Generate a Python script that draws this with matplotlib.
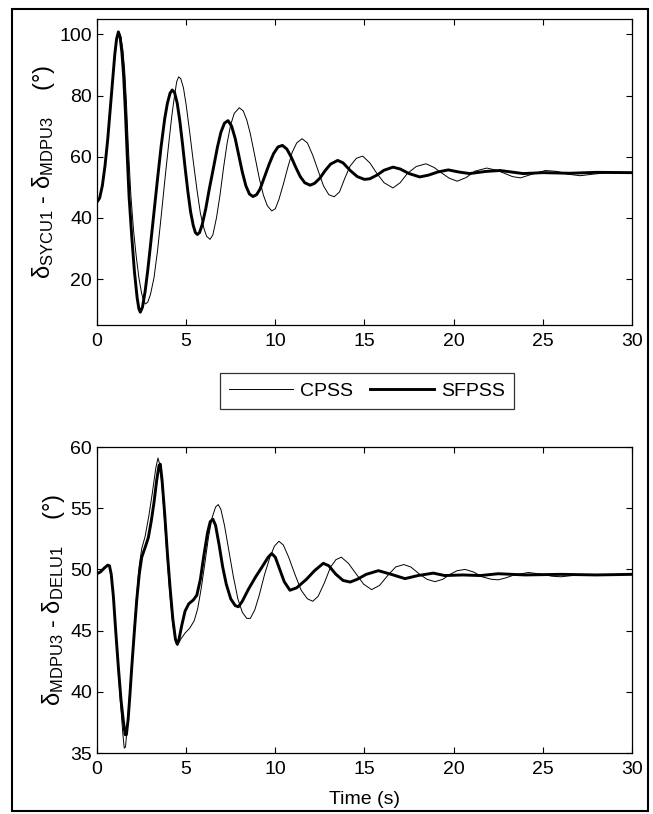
import matplotlib

matplotlib.use("Agg")
import matplotlib.pyplot as plt
from matplotlib.patches import Rectangle

plt.rcParams["font.family"] = ["Liberation Sans", "DejaVu Sans"]
plt.rcParams["mathtext.fontset"] = "custom"
plt.rcParams["mathtext.rm"] = "Liberation Sans"
plt.rcParams["mathtext.it"] = "Liberation Sans:italic"
plt.rcParams["font.size"] = 13.5

# ---- data (time in s, angle in deg) ----
t_top_cpss = [0.0, 0.15, 0.3, 0.45, 0.6, 0.75, 0.9, 1.0, 1.1, 1.22, 1.33, 1.45, 1.55,
              1.65, 1.76, 1.9, 2.05, 2.2, 2.35, 2.5, 2.62, 2.72, 2.85, 3.0, 3.2, 3.4,
              3.6, 3.8, 4.0, 4.2, 4.35, 4.47, 4.58, 4.7, 4.85, 5.0, 5.2, 5.4, 5.6, 5.8,
              6.0, 6.15, 6.34, 6.5, 6.7, 6.9, 7.1, 7.3, 7.5, 7.7, 7.98, 8.2, 8.4, 8.6,
              8.86, 9.1, 9.33, 9.55, 9.8, 10.0, 10.2, 10.45, 10.7, 10.95, 11.2, 11.5,
              11.8, 12.1, 12.4, 12.7, 13.0, 13.3, 13.6, 13.9, 14.2, 14.55, 14.9, 15.3,
              15.7, 16.1, 16.6, 17.0, 17.4, 17.9, 18.45, 18.9, 19.3, 19.75, 20.2, 20.7,
              21.2, 21.86, 22.4, 22.8, 23.3, 23.75, 24.4, 25.15, 25.8, 26.4, 27.1,
              27.8, 28.5, 30.0]
y_top_cpss = [45.2, 46.5, 50.5, 57.0, 65.5, 76.0, 86.5, 93.0, 97.8, 100.8, 99.5, 95.0, 88.5,
              78.0, 63.0, 47.5, 36.0, 27.5, 20.5, 15.5, 12.8, 11.9, 12.5, 15.0, 20.5, 29.5,
              40.5, 52.0, 63.0, 73.5, 80.0, 84.5, 86.1, 85.5, 82.5, 77.0, 68.0, 58.5, 49.5, 41.5,
              36.5, 34.0, 33.0, 34.5, 40.0, 47.5, 56.5, 64.5, 70.5, 74.2, 76.0, 75.0, 72.0, 67.5,
              60.0, 53.0, 47.5, 44.0, 42.3, 43.0, 46.0, 51.0, 56.5, 61.5, 64.5, 65.9,
              64.5, 60.5, 55.5, 50.5, 47.6, 46.9, 48.5, 53.0, 57.0, 59.5, 60.2, 58.0,
              54.5, 51.5, 49.8, 51.5, 54.5, 56.8, 57.7, 56.5, 54.8, 53.0, 52.0, 53.2,
              55.3, 56.3, 55.6, 54.7, 53.5, 53.1, 54.3, 55.5, 55.2, 54.3, 53.8,
              54.3, 54.7, 54.8]

t_top_sfpss = [0.0, 0.15, 0.3, 0.45, 0.6, 0.75, 0.9, 1.0, 1.1, 1.2, 1.3, 1.4, 1.5, 1.6,
               1.7, 1.8, 1.95, 2.1, 2.25, 2.35, 2.43, 2.55, 2.7, 2.85, 3.0, 3.2, 3.4, 3.6,
               3.8, 3.95, 4.1, 4.22, 4.35, 4.5, 4.65, 4.8, 4.95, 5.1, 5.25, 5.4, 5.52,
               5.63, 5.75, 5.9, 6.1, 6.3, 6.52, 6.75, 6.95, 7.15, 7.35, 7.55, 7.75, 7.95,
               8.15, 8.35, 8.55, 8.75, 8.95, 9.15, 9.4, 9.65, 9.9, 10.15, 10.4, 10.65,
               10.9, 11.15, 11.4, 11.65, 11.95, 12.2, 12.5, 12.8, 13.1, 13.5, 13.8, 14.2,
               14.6, 15.0, 15.3, 15.7, 16.1, 16.6, 17.0, 17.5, 18.1, 18.6, 19.1, 19.7,
               20.3, 20.9, 21.8, 22.6, 23.9, 25.0, 26.5, 28.0, 30.0]
y_top_sfpss = [45.2, 46.5, 50.5, 57.0, 65.5, 76.0, 86.5, 93.5, 98.5, 100.8, 99.0, 94.0, 86.0, 74.0,
               60.0, 47.0, 34.0, 22.5, 14.0, 10.3, 9.2, 10.8, 16.0, 23.0, 31.0, 42.0, 53.0, 63.5,
               72.5, 77.5, 80.8, 81.8, 81.0, 77.5, 71.5, 64.0, 56.0, 48.5, 42.0, 37.5, 35.2,
               34.6, 35.2, 37.8, 43.0, 49.5, 56.0, 63.0, 68.0, 71.0, 71.8, 70.0, 66.0, 60.5,
               55.0, 50.5, 47.8, 47.0, 47.6, 49.5, 53.5, 57.5, 61.0, 63.2, 63.7, 62.5,
               59.8, 56.5, 53.5, 51.5, 50.7, 51.3, 53.0, 55.5, 57.6, 58.8, 58.0, 55.5,
               53.5, 52.6, 52.8, 54.0, 55.6, 56.6, 56.0, 54.5, 53.4, 54.0, 55.0, 55.7,
               55.0, 54.5, 55.2, 55.5, 54.5, 54.8, 54.6, 54.9, 54.8]

t_bot_cpss = [0.0, 0.2, 0.4, 0.6, 0.7, 0.8, 0.92, 1.05, 1.2, 1.35, 1.45, 1.53, 1.6, 1.7,
              1.8, 1.95, 2.1, 2.23, 2.37, 2.51, 2.7, 2.9, 3.1, 3.3, 3.42, 3.52, 3.65, 3.8,
              3.95, 4.1, 4.25, 4.4, 4.52, 4.7, 4.94, 5.2, 5.45, 5.65, 5.85, 6.05, 6.25,
              6.45, 6.65, 6.8, 6.95, 7.15, 7.4, 7.65, 7.9, 8.15, 8.4, 8.6, 8.85, 9.1,
              9.4, 9.7, 9.95, 10.2, 10.45, 10.75, 11.1, 11.45, 11.8, 12.1, 12.4, 12.75,
              13.1, 13.4, 13.7, 14.1, 14.5, 14.95, 15.4, 15.85, 16.3, 16.75, 17.2, 17.6,
              18.1, 18.5, 18.95, 19.4, 19.8, 20.2, 20.64, 21.1, 21.6, 22.1, 22.5, 22.9,
              23.4, 24.2, 25.0, 25.5, 26.0, 27.0, 30.0]
y_bot_cpss = [49.65, 49.8, 50.1, 50.35, 50.3, 49.5, 47.6, 44.8, 41.5, 38.5, 36.6, 35.4, 35.5, 37.2,
              39.3, 42.3, 45.5, 48.0, 50.3, 51.7, 52.7, 54.3, 56.2, 58.3, 59.1, 58.6, 56.8, 53.8,
              50.6, 47.8, 45.5, 44.1, 43.8, 44.3, 44.8, 45.2, 45.8, 46.8, 48.5, 50.5, 52.6,
              54.2, 55.1, 55.3, 54.9, 53.6, 51.5, 49.4, 47.6, 46.5, 46.0, 46.0, 46.7, 47.9,
              49.6, 51.0, 51.9, 52.3, 52.0, 51.0, 49.6, 48.3, 47.6, 47.4, 47.8, 48.9,
              50.2, 50.8, 51.0, 50.5, 49.7, 48.8, 48.35, 48.7, 49.5, 50.2, 50.4, 50.2,
              49.6, 49.2, 49.0, 49.2, 49.6, 49.9, 50.0, 49.8, 49.4, 49.2, 49.15, 49.3,
              49.55, 49.75, 49.6, 49.45, 49.4, 49.55, 49.6]

t_bot_sfpss = [0.0, 0.2, 0.4, 0.6, 0.7, 0.8, 0.92, 1.05, 1.2, 1.35, 1.48, 1.58, 1.65, 1.75,
               1.85, 1.95, 2.1, 2.23, 2.37, 2.51, 2.7, 2.88, 3.05, 3.2, 3.35, 3.48, 3.55,
               3.65, 3.8, 3.95, 4.1, 4.25, 4.4, 4.5, 4.6, 4.75, 4.94, 5.15, 5.4, 5.6, 5.8,
               6.0, 6.2, 6.35, 6.5, 6.65, 6.85, 7.05, 7.25, 7.5, 7.75, 7.93, 8.15, 8.5,
               8.9, 9.3, 9.6, 9.8, 10.0, 10.25, 10.5, 10.82, 11.2, 11.75, 12.2, 12.69,
               13.0, 13.4, 13.8, 14.2, 14.6, 15.1, 15.78, 16.5, 17.27, 18.0, 18.86, 19.5,
               20.5, 21.5, 22.5, 24.0, 26.0, 28.0, 30.0]
y_bot_sfpss = [49.65, 49.8, 50.1, 50.35, 50.3, 49.6, 47.8, 45.0, 42.0, 39.3, 37.6, 36.5, 36.5, 37.8,
               39.8, 42.0, 45.0, 47.5, 49.6, 51.0, 51.8, 52.6, 54.0, 55.5, 57.3, 58.5, 58.6,
               57.3, 54.5, 51.3, 48.5, 46.0, 44.3, 43.9, 44.3, 45.4, 46.6, 47.2, 47.5, 47.9, 49.2,
               51.2, 53.0, 53.9, 54.1, 53.6, 52.0, 50.2, 48.8, 47.6, 47.05, 46.95, 47.4, 48.4,
               49.4, 50.3, 51.0, 51.3, 51.0, 50.0, 49.0, 48.3, 48.5, 49.2, 49.9, 50.5,
               50.3, 49.6, 49.1, 48.97, 49.2, 49.6, 49.9, 49.6, 49.25, 49.5, 49.7, 49.5,
               49.55, 49.5, 49.65, 49.55, 49.6, 49.55, 49.6]

top_yticks = [20, 40, 60, 80, 100]
bot_yticks = [35, 40, 45, 50, 55, 60]
xticks = [0, 5, 10, 15, 20, 25, 30]


def style_axes(ax):
    ax.set_xlim(0, 30)
    ax.set_xticks(xticks)
    ax.tick_params(direction="in", top=True, right=True, length=4, width=0.8,
                   labelsize=14)
    ax.tick_params(axis="x", pad=6)
    for s in ax.spines.values():
        s.set_linewidth(0.9)


fig = plt.figure(figsize=(6.53, 8.14), dpi=100)
ax1 = fig.add_axes([0.1485, 0.6007, 0.8193, 0.3759])
ax2 = fig.add_axes([0.1485, 0.0749, 0.8193, 0.3759])

l1, = ax1.plot(t_top_cpss, y_top_cpss, color="black", lw=0.7, label="CPSS")
l2, = ax1.plot(t_top_sfpss, y_top_sfpss, color="black", lw=2.1, label="SFPSS")
ax1.set_ylim(5, 105)
ax1.set_yticks(top_yticks)
style_axes(ax1)
ax1.set_ylabel(r"δ$_{\mathrm{SYCU1}}$ - δ$_{\mathrm{MDPU3}}$    (°)", fontsize=17,
               labelpad=2)

ax2.plot(t_bot_cpss, y_bot_cpss, color="black", lw=0.7)
ax2.plot(t_bot_sfpss, y_bot_sfpss, color="black", lw=2.1)
ax2.set_ylim(35, 60)
ax2.set_yticks(bot_yticks)
style_axes(ax2)
ax2.set_ylabel(r"δ$_{\mathrm{MDPU3}}$ - δ$_{\mathrm{DELU1}}$    (°)", fontsize=17,
               labelpad=2)
ax2.set_xlabel("Time (s)", fontsize=14, labelpad=9)

leg = fig.legend(handles=[l1, l2], loc="center", bbox_to_anchor=(0.562, 0.5197),
                 ncol=2, frameon=True, fancybox=False, handlelength=3.3,
                 columnspacing=0.9, handletextpad=0.35, borderpad=0.45, fontsize=14)
leg.get_frame().set_edgecolor("black")
leg.get_frame().set_linewidth(0.9)

fig.add_artist(Rectangle((12 / 653, 3 / 814), 636 / 653, 802 / 814,
                         transform=fig.transFigure, fill=False,
                         edgecolor="black", linewidth=1.5))

fig.savefig("out.png", dpi=100)
